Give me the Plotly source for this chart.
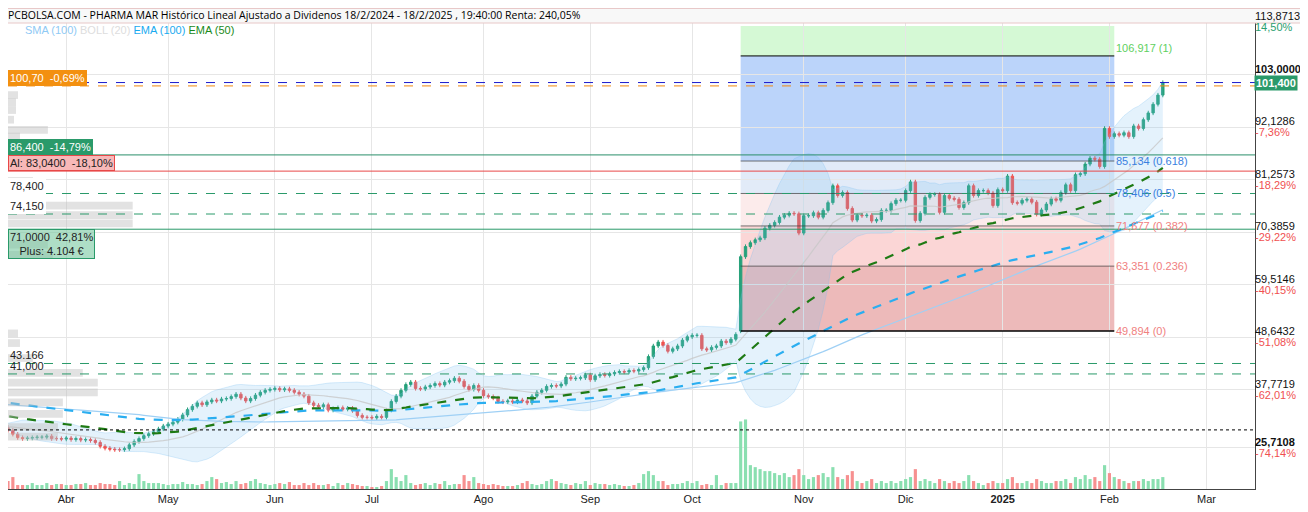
import pandas as pd
import numpy as np
import plotly.graph_objects as go

# ---------------- data ----------------
pre_closes = [42,41.5,41.8,42.4,42.0,41.2,40.6,40.9,41.3,40.8,40.2,39.8,40.1,39.6,39.0,38.7,39.2,39.5,38.9,38.4,
              38.0,37.6,37.9,38.3,37.8,37.2,36.9,37.3,36.8,36.2,35.8,35.4,35.9,35.5,34.9,34.2,33.8,34.1,33.6,33.0,
              32.6,32.9,32.4,31.8,31.2,30.9,31.4,31.0,30.6,30.2,30.5,30.9,30.4,30.0,29.7,30.1,30.4,30.8,30.3,29.9,
              29.6,29.8,30.2,30.5,30.1,29.8,30.3,30.6,30.2,29.9]
c_mar = [29.8,29.6,29.9,29.3,28.5,27.8,27.6,27.7,27.8,27.9,27.9,28.1,27.6]
c_apr = [27.6,27.5,27.7,27.4,27.6,27.3,27.4,27.2,26.8,26.0,25.6,25.4,25.3,25.3,25.5,26.3,27.0,27.6,28.2,28.6,29.0,29.6]
c_may = [30.2,30.6,31.0,31.6,32.5,33.6,34.3,35.0,34.6,35.2,35.6,35.4,35.8,35.9,36.3,36.8,36.0,35.4,35.9,36.6,37.2,37.6]
c_jun = [37.8,38.0,37.7,37.9,37.6,37.2,36.8,36.4,35.0,34.5,34.2,34.6,33.5,33.8,34.0,33.7,33.9,33.4,32.4,32.0]
c_jul = [32.0,31.9,32.2,32.0,33.5,35.3,36.4,37.6,38.8,39.3,38.0,37.9,38.3,38.6,39.0,38.7,39.3,39.6,40.1,39.5,38.4,37.8,38.6]
c_aug = [37.6,36.5,36.3,36.0,35.3,35.2,35.4,35.2,35.6,35.4,35.0,36.4,37.2,37.6,38.4,38.6,38.5,38.9,40.3,40.0,40.1,40.2]
c_sep = [40.8,39.8,40.6,40.9,40.7,41.0,41.3,41.5,41.4,41.7,41.6,41.9,42.3,44.6,46.8,47.6,46.9,45.7,46.2,46.8,48.0,48.7,49.0]
c_oct = [49.0,46.2,46.0,46.5,46.8,47.8,47.5,48.2,49.2]
c_post = [65.3,67.4,68.2,68.8,69.2,71.2,71.8,72.4,73.5,73.9,
          74.3,74.2,70.2,73.8,73.8,74.4,73.5,74.9,76.5,80.0,
          78.0,78.6,75.3,72.9,73.9,73.8,73.9,72.7,73.0,74.9,
          74.9,76.3,77.0,77.0,79.0,80.8,72.8,74.3,77.6,78.2,
          78.2,74.5,78.0,77.4,77.2,75.5,76.5,80.0,78.0,79.0,
          79.0,78.5,75.9,79.2,79.0,82.0,76.5,76.4,77.0,77.2,
          76.6,74.1,75.0,76.2,77.3,77.0,78.6,80.2,79.0,82.3,
          82.5,84.5,85.7,85.5,84.0,91.9,90.2,90.8,90.5,91.0,
          90.2,92.4,91.9,93.7,95.1,96.9,98.8,101.4]

v_mar = [4,4,6,8,12,4,4,4,6,4,4,6,4]
v_apr = [5,5,4,4,5,5,6,4,4,6,5,5,4,8,4,6,5,15,8,6,6,6]
v_may = [5,4,5,5,7,5,5,4,5,8,12,10,6,7,5,8,5,6,8,10,6,5]
v_jun = [4,5,6,5,7,4,4,6,4,6,4,4,5,3,6,4,6,5,4,3]
v_jul = [3,2,2,3,8,20,12,8,14,6,4,5,6,4,6,5,8,4,5,5,14,8,12]
v_aug = [6,5,4,5,4,3,3,3,4,6,8,5,4,5,8,10,8,6,5,4,6,5]
v_sep = [8,4,6,5,5,4,5,4,3,3,4,6,15,18,14,8,8,4,5,5,6,8,6]
v_oct = [8,4,5,4,14,4,6,6,6]
v_post = [68,70,24,22,20,18,18,16,14,16,12,14,20,14,10,12,14,16,12,22,
          12,10,14,18,8,6,8,10,6,8,6,8,6,8,10,12,20,8,10,8,
          6,10,8,6,8,6,8,14,8,6,4,6,8,6,6,10,12,6,6,8,
          6,10,8,6,6,8,8,10,6,12,10,14,10,12,8,24,16,12,10,8,
          6,8,8,10,8,10,10,12]

spike_open = 49.9
wick = 0.45
holidays = ["2024-03-29", "2024-04-01", "2024-05-01", "2024-12-25", "2024-12-26", "2025-01-01"]

fib_low, fib_high = 49.894, 106.917
fib_levels = [0, 0.236, 0.382, 0.5, 0.618, 1]
fib_labels = ["49,894 (0)", "63,351 (0.236)", "71,677 (0.382)", "78,406 (0.5)", "85,134 (0.618)", "106,917 (1)"]

prof_prices = [98.8,97.3,95.7,93.7,91.6,90.2,81.0,80.0,75.9,73.9,72.2,67.8,65.7,49.4,47.4,44.3,41.2,39.2,37.2,35.1,32.7,30.0,28.0]
prof_widths = [10,8,8,6,40,12,25,35,125,125,125,40,45,10,12,25,75,90,90,55,55,50,50]

ytick_vals = [113.8713,103.0,92.1286,81.2573,70.3859,59.5146,48.6432,37.7719,25.7108]
ytick_text = ["113,8713","103,0000","92,1286","81,2573","70,3859","59,5146","48,6432","37,7719","25,7108"]
ytick_pct = ["14,50%","","-7,36%","-18,29%","-29,22%","-40,15%","-51,08%","-62,01%","-74,14%"]

month_vals = ["2024-04-02","2024-05-02","2024-06-03","2024-07-01","2024-08-01","2024-09-02","2024-10-01",
              "2024-11-01","2024-12-02","2025-01-02","2025-02-03","2025-03-03"]
month_text = ["Abr","May","Jun","Jul","Ago","Sep","Oct","Nov","Dic","<b>2025</b>","Feb","Mar"]

# ---------------- build ----------------
closes = c_mar + c_apr + c_may + c_jun + c_jul + c_aug + c_sep + c_oct + c_post
vols = v_mar + v_apr + v_may + v_jun + v_jul + v_aug + v_sep + v_oct + v_post
n = len(closes)
bday = pd.offsets.CustomBusinessDay(holidays=holidays)
dates = pd.date_range(end="2025-02-18", periods=n, freq=bday)
spike_idx = n - len(c_post)
opens = [pre_closes[-1]] + closes[:-1]
opens[spike_idx] = spike_open
highs = [max(o, c) + wick for o, c in zip(opens, closes)]
lows = [min(o, c) - wick for o, c in zip(opens, closes)]

all_c = pd.Series(pre_closes + closes)
all_dates = pd.date_range(end="2025-02-18", periods=len(all_c), freq=bday)
ema50 = all_c.ewm(span=50, adjust=False).mean()
ema100 = all_c.ewm(span=100, adjust=False).mean()
sma100 = all_c.rolling(100, min_periods=1).mean()
bmid = all_c.rolling(20, min_periods=1).mean()
bstd = all_c.rolling(20, min_periods=2).std().fillna(0)
bup, blo = bmid + 2 * bstd, bmid - 2 * bstd

fig = go.Figure()
fig.add_trace(go.Bar(y=prof_prices, x=prof_widths, orientation="h", width=1.6, xaxis="x3", yaxis="y",
                     marker=dict(color="rgba(190,190,190,0.45)", line_width=0), showlegend=False))
fig.add_trace(go.Scatter(x=all_dates, y=bup, mode="lines", line=dict(color="rgba(120,190,240,0.35)", width=0.8), showlegend=False))
fig.add_trace(go.Scatter(x=all_dates, y=blo, mode="lines", line=dict(color="rgba(120,190,240,0.35)", width=0.8),
                         fill="tonexty", fillcolor="rgba(120,190,240,0.2)", showlegend=False))
fig.add_trace(go.Scatter(x=all_dates, y=bmid, mode="lines", line=dict(color="rgba(200,200,200,0.8)", width=1.2), showlegend=False))
fig.add_trace(go.Scatter(x=all_dates, y=sma100, mode="lines", line=dict(color="#9fd0f5", width=1.2), showlegend=False))
fig.add_trace(go.Scatter(x=all_dates, y=ema100, mode="lines", line=dict(color="#2aaef0", width=2.2, dash="dash"), showlegend=False))
fig.add_trace(go.Scatter(x=all_dates, y=ema50, mode="lines", line=dict(color="#1e7a14", width=2.2, dash="dash"), showlegend=False))
vcol = ["#8adfb0" if c >= o else "#f79090" for o, c in zip(opens, closes)]
fig.add_trace(go.Bar(x=dates, y=vols, marker=dict(color=vcol, line_width=0), yaxis="y2", showlegend=False))
fig.add_trace(go.Candlestick(x=dates, open=opens, high=highs, low=lows, close=closes,
                             increasing=dict(line=dict(color="#26a17a", width=1), fillcolor="#26a17a"),
                             decreasing=dict(line=dict(color="#ef5350", width=1), fillcolor="#ef5350"),
                             whiskerwidth=0, showlegend=False))

T = 14
PH = 508.0 - T - 27  # plot height in px
shapes = []
fx0, fx1 = dates[spike_idx], pd.Timestamp("2025-02-04")
fv = [fib_low + l * (fib_high - fib_low) for l in fib_levels]
zones = [(fv[5], 113.1, "rgba(150,240,150,0.4)"), (fv[4], fv[5], "rgba(120,170,245,0.5)"),
         (fv[3], fv[4], "rgba(190,210,240,0.45)"), (fv[2], fv[3], "rgba(250,215,215,0.5)"),
         (fv[1], fv[2], "rgba(248,180,180,0.55)"), (fv[0], fv[1], "rgba(225,140,140,0.6)")]
for y0, y1, col in zones:
    shapes.append(dict(type="rect", xref="x", yref="y", x0=fx0, x1=fx1, y0=y0, y1=y1, fillcolor=col, line_width=0, layer="below"))
for v in fv:
    shapes.append(dict(type="line", xref="x", yref="y", x0=fx0, x1=fx1, y0=v, y1=v,
                       line=dict(color="black" if v in (fv[0], fv[5]) else "rgba(60,60,60,0.7)", width=1.5 if v == fv[0] else 1)))
hl = [(101.4, "#1a1acc", "dash"), (100.7, "#f08a10", "dash"), (86.4, "#2a8f6a", "solid"), (83.04, "#e84848", "solid"),
      (78.4, "#2a9a6a", "dash"), (74.15, "#2a9a6a", "dash"), (71.0, "#2a9a6a", "solid"),
      (43.166, "#2a9a6a", "dash"), (41.0, "#2a9a6a", "dash"), (29.4, "black", "dot")]
for v, col, d in hl:
    shapes.append(dict(type="line", xref="paper", yref="y", x0=0, x1=1, y0=v, y1=v, line=dict(color=col, width=1, dash=d)))
shapes.append(dict(type="rect", xref="paper", yref="paper", x0=-0.003, x1=1.041, y0=1 - 1 / PH, y1=1 + (T - 0.5) / PH,
                   fillcolor="#f8f8f8", line=dict(color="#e8c8c8", width=1)))

ann = []
ann.append(dict(xref="paper", yref="paper", x=-0.002, y=1 + 7 / PH, xanchor="left", yanchor="middle", showarrow=False,
                text="PCBOLSA.COM - PHARMA MAR Histórico Lineal Ajustado a Dividenos 18/2/2024 - 18/2/2025 , 19:40:00 Renta: 240,05%",
                font=dict(size=10.5, color="#000", family="Open Sans")))
ann.append(dict(xref="paper", yref="paper", x=0.012, y=1 - 8 / PH, xanchor="left", yanchor="middle", showarrow=False,
                text="<span style='color:#8fcaf5'>SMA (100)</span> <span style='color:#dddddd'>BOLL (20)</span> "
                     "<span style='color:#1aaaf0'>EMA (100)</span> <span style='color:#1a8a1a'>EMA (50)</span>",
                font=dict(size=11, family="Arial")))
for lv, lab in zip(fv, fib_labels):
    col = "#60d060" if lab.endswith("(1)") else ("#3a80e0" if ("0.618" in lab or "0.5)" in lab) else "#f08080")
    ann.append(dict(x=fx1, y=lv, xref="x", yref="y", xanchor="left", yanchor="bottom" if lab.endswith("(1)") else "middle",
                    showarrow=False, text=lab, font=dict(size=11, color=col, family="Arial")))
left_labels = [(100.7, "100,70  -0,69%", "#f39010", "white", "#f39010"),
               (86.4, "86,400  -14,79%", "#2a9a6a", "white", "#2a9a6a"),
               (83.04, "Al: 83,0400  -18,10%", "#f8b8b8", "#222", "#e84848"),
               (78.4, "78,400", "white", "#222", "white"),
               (74.15, "74,150", "white", "#222", "white"),
               (71.0, "71,0000  42,81%<br>Plus: 4.104 €", "rgba(120,200,160,0.6)", "#222", "#2a9a6a"),
               (43.166, "43.166", "rgba(255,255,255,0)", "#222", "rgba(0,0,0,0)"),
               (41.0, "41,000", "rgba(255,255,255,0)", "#222", "rgba(0,0,0,0)")]
for v, t, bg, fc, bc in left_labels:
    ann.append(dict(xref="paper", yref="y", x=0.0, y=v, xanchor="left",
                    yanchor="top" if "Plus" in t else "bottom", showarrow=False, text=t, bgcolor=bg, bordercolor=bc,
                    borderwidth=1, borderpad=1, font=dict(size=11, color=fc, family="Arial")))
for v, t, p in zip(ytick_vals, ytick_text, ytick_pct):
    bold = t in ("103,0000", "25,7108")
    ann.append(dict(xref="paper", yref="y", x=1.0, xshift=-2, y=v, yshift=6, xanchor="left", yanchor="middle", showarrow=False,
                    text=f"<b>{t}</b>" if bold else t, font=dict(size=11, color="#111", family="Arial")))
    if p:
        ann.append(dict(xref="paper", yref="y", x=1.0, xshift=-2, y=v, yshift=-5, xanchor="left", yanchor="middle", showarrow=False,
                        text=p, font=dict(size=11, color="#2aa070" if not p.startswith("-") else "#f05050", family="Arial")))
ann.append(dict(xref="paper", yref="y", x=1.0, xshift=-1, y=101.4, xanchor="left", yanchor="middle", showarrow=False,
                text="<b>101,400</b>", bgcolor="#2a9a6a", font=dict(size=11, color="white", family="Arial")))

fig.update_layout(
    width=1300, height=508, margin=dict(l=0, r=53, t=T, b=27),
    plot_bgcolor="white", paper_bgcolor="white", bargap=0.35, showlegend=False,
    shapes=shapes, annotations=ann,
    xaxis=dict(type="date", range=["2024-03-13", "2025-03-15"],
               rangebreaks=[dict(bounds=["sat", "mon"]), dict(values=holidays)],
               tickvals=month_vals, ticktext=month_text, showgrid=True, gridcolor="#e6e6e6",
               rangeslider=dict(visible=False), tickfont=dict(size=11, color="#222", family="Arial"),
               showline=True, linecolor="#444", ticks=""),
    yaxis=dict(range=[17.15, 113.95], side="right", tickvals=ytick_vals, showticklabels=False, showgrid=True,
               gridcolor="#e6e6e6", showline=True, linecolor="#444", zeroline=False),
    yaxis2=dict(range=[0, 470], overlaying="y", visible=False),
    xaxis3=dict(range=[0, 1250], overlaying="x", visible=False),
)
fig.write_html("out.html")
